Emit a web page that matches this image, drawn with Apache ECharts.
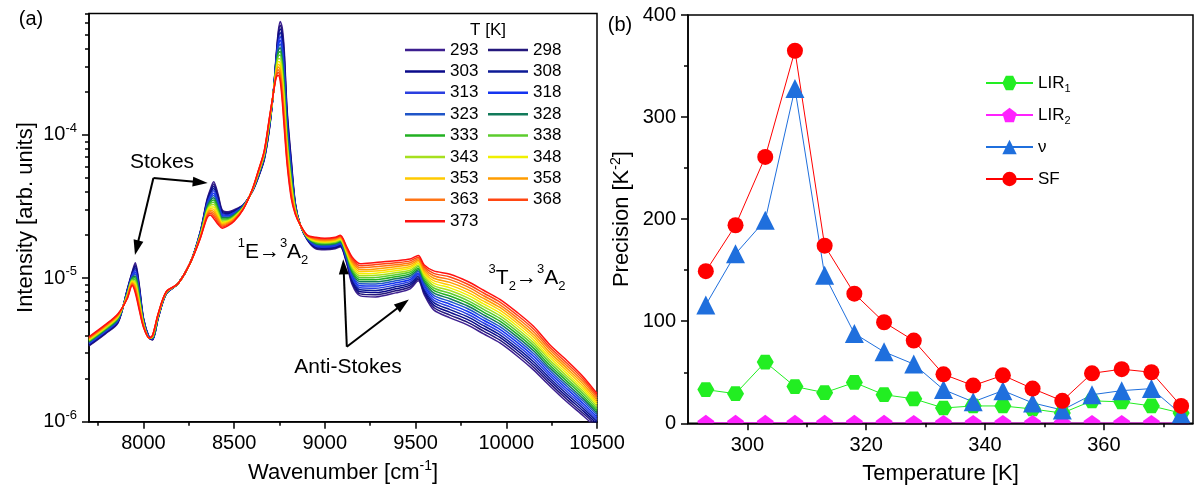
<!DOCTYPE html>
<html><head><meta charset="utf-8">
<script src="https://cdn.jsdelivr.net/npm/echarts@6/dist/echarts.min.js"></script>
<style>html,body{margin:0;padding:0;background:#fff;}#c{width:1195px;height:487px;}</style>
</head><body><div id="c"></div>
<script>
const FONT = '"Liberation Sans", Arial, Helvetica, sans-serif';

// ---------- Panel (a): spectra, x = wavenumber [cm-1], values = log10(intensity) ----------
const wavenumber = [7700,7790,7860,7910,7938,7955,7977,8000,8032,8050,8082,8126,8190,8258,8313,8350,8368,8387,8412,8434,8467,8500,8550,8600,8633,8666,8694,8715,8732,8743,8754,8765,8776,8792,8815,8837,8864,8903,8950,9000,9057,9085,9118,9151,9195,9280,9390,9470,9515,9548,9600,9690,9785,9875,9965,10060,10150,10240,10335,10425,10500];

const logI_293 = [-5.472,-5.388,-5.311,-5.081,-4.955,-4.893,-5.046,-5.276,-5.416,-5.430,-5.276,-5.109,-5.039,-4.893,-4.676,-4.453,-4.383,-4.327,-4.418,-4.523,-4.537,-4.523,-4.488,-4.397,-4.299,-4.174,-3.964,-3.720,-3.441,-3.281,-3.211,-3.253,-3.406,-3.825,-4.174,-4.474,-4.627,-4.732,-4.795,-4.802,-4.795,-4.781,-4.886,-5.046,-5.123,-5.130,-5.102,-5.074,-5.018,-5.116,-5.221,-5.276,-5.325,-5.388,-5.451,-5.542,-5.639,-5.751,-5.863,-5.960,-6.044];
const logI_298 = [-5.468,-5.384,-5.307,-5.085,-4.961,-4.906,-5.057,-5.280,-5.416,-5.428,-5.274,-5.108,-5.039,-4.893,-4.679,-4.461,-4.394,-4.343,-4.431,-4.531,-4.543,-4.528,-4.490,-4.396,-4.296,-4.170,-3.959,-3.720,-3.451,-3.300,-3.237,-3.285,-3.440,-3.849,-4.191,-4.479,-4.627,-4.730,-4.790,-4.797,-4.790,-4.776,-4.879,-5.034,-5.109,-5.115,-5.088,-5.061,-5.007,-5.103,-5.204,-5.257,-5.306,-5.369,-5.432,-5.523,-5.620,-5.733,-5.845,-5.943,-6.029];
const logI_303 = [-5.464,-5.380,-5.303,-5.089,-4.967,-4.919,-5.068,-5.284,-5.416,-5.426,-5.272,-5.107,-5.039,-4.893,-4.682,-4.469,-4.405,-4.359,-4.444,-4.539,-4.549,-4.533,-4.492,-4.395,-4.293,-4.166,-3.954,-3.720,-3.461,-3.319,-3.263,-3.317,-3.474,-3.873,-4.208,-4.484,-4.627,-4.728,-4.785,-4.792,-4.785,-4.771,-4.872,-5.022,-5.095,-5.100,-5.074,-5.048,-4.996,-5.090,-5.187,-5.238,-5.287,-5.350,-5.413,-5.504,-5.601,-5.715,-5.827,-5.926,-6.014];
const logI_308 = [-5.460,-5.376,-5.299,-5.093,-4.973,-4.932,-5.079,-5.288,-5.416,-5.424,-5.270,-5.106,-5.039,-4.893,-4.685,-4.477,-4.416,-4.375,-4.457,-4.547,-4.555,-4.538,-4.494,-4.394,-4.290,-4.162,-3.949,-3.720,-3.471,-3.338,-3.289,-3.349,-3.508,-3.897,-4.225,-4.489,-4.627,-4.726,-4.780,-4.787,-4.780,-4.766,-4.865,-5.010,-5.081,-5.085,-5.060,-5.035,-4.985,-5.077,-5.170,-5.219,-5.268,-5.331,-5.394,-5.485,-5.582,-5.697,-5.809,-5.909,-5.999];
const logI_313 = [-5.456,-5.372,-5.295,-5.097,-4.979,-4.945,-5.090,-5.292,-5.416,-5.422,-5.268,-5.105,-5.039,-4.893,-4.688,-4.485,-4.427,-4.391,-4.470,-4.555,-4.561,-4.543,-4.496,-4.393,-4.287,-4.158,-3.944,-3.720,-3.481,-3.357,-3.315,-3.381,-3.542,-3.921,-4.242,-4.494,-4.627,-4.724,-4.775,-4.782,-4.775,-4.761,-4.858,-4.998,-5.067,-5.070,-5.046,-5.022,-4.974,-5.064,-5.153,-5.200,-5.249,-5.312,-5.375,-5.466,-5.563,-5.679,-5.791,-5.892,-5.984];
const logI_318 = [-5.452,-5.368,-5.291,-5.101,-4.985,-4.958,-5.101,-5.296,-5.416,-5.420,-5.266,-5.104,-5.039,-4.893,-4.691,-4.493,-4.438,-4.407,-4.483,-4.563,-4.567,-4.548,-4.498,-4.392,-4.284,-4.154,-3.939,-3.720,-3.491,-3.376,-3.341,-3.413,-3.576,-3.945,-4.259,-4.499,-4.627,-4.722,-4.770,-4.777,-4.770,-4.756,-4.851,-4.986,-5.053,-5.055,-5.032,-5.009,-4.963,-5.051,-5.136,-5.181,-5.230,-5.293,-5.356,-5.447,-5.544,-5.661,-5.773,-5.875,-5.969];
const logI_323 = [-5.448,-5.364,-5.287,-5.105,-4.991,-4.971,-5.112,-5.300,-5.416,-5.418,-5.264,-5.103,-5.039,-4.893,-4.694,-4.501,-4.449,-4.423,-4.496,-4.571,-4.573,-4.553,-4.500,-4.391,-4.281,-4.150,-3.934,-3.720,-3.501,-3.395,-3.367,-3.445,-3.610,-3.969,-4.276,-4.504,-4.627,-4.720,-4.765,-4.772,-4.765,-4.751,-4.844,-4.974,-5.039,-5.040,-5.018,-4.996,-4.952,-5.038,-5.119,-5.162,-5.211,-5.274,-5.337,-5.428,-5.525,-5.643,-5.755,-5.858,-5.954];
const logI_328 = [-5.444,-5.360,-5.283,-5.109,-4.997,-4.984,-5.123,-5.304,-5.416,-5.416,-5.262,-5.102,-5.039,-4.893,-4.697,-4.509,-4.460,-4.439,-4.509,-4.579,-4.579,-4.558,-4.502,-4.390,-4.278,-4.146,-3.929,-3.720,-3.511,-3.414,-3.393,-3.477,-3.644,-3.993,-4.293,-4.509,-4.627,-4.718,-4.760,-4.767,-4.760,-4.746,-4.837,-4.962,-5.025,-5.025,-5.004,-4.983,-4.941,-5.025,-5.102,-5.143,-5.192,-5.255,-5.318,-5.409,-5.506,-5.625,-5.737,-5.841,-5.939];
const logI_333 = [-5.440,-5.356,-5.279,-5.113,-5.003,-4.997,-5.134,-5.308,-5.416,-5.414,-5.260,-5.101,-5.039,-4.893,-4.700,-4.517,-4.471,-4.455,-4.522,-4.587,-4.585,-4.563,-4.504,-4.389,-4.275,-4.142,-3.924,-3.720,-3.521,-3.433,-3.419,-3.509,-3.678,-4.017,-4.310,-4.514,-4.627,-4.716,-4.755,-4.762,-4.755,-4.741,-4.830,-4.950,-5.011,-5.010,-4.990,-4.970,-4.930,-5.012,-5.085,-5.124,-5.173,-5.236,-5.299,-5.390,-5.487,-5.607,-5.719,-5.824,-5.924];
const logI_338 = [-5.436,-5.352,-5.275,-5.117,-5.009,-5.010,-5.145,-5.312,-5.416,-5.412,-5.258,-5.100,-5.039,-4.893,-4.703,-4.525,-4.482,-4.471,-4.535,-4.595,-4.591,-4.568,-4.506,-4.388,-4.272,-4.138,-3.919,-3.720,-3.531,-3.452,-3.445,-3.541,-3.712,-4.041,-4.327,-4.519,-4.627,-4.714,-4.750,-4.757,-4.750,-4.736,-4.823,-4.938,-4.997,-4.995,-4.976,-4.957,-4.919,-4.999,-5.068,-5.105,-5.154,-5.217,-5.280,-5.371,-5.468,-5.589,-5.701,-5.807,-5.909];
const logI_343 = [-5.432,-5.348,-5.271,-5.121,-5.015,-5.023,-5.156,-5.316,-5.416,-5.410,-5.256,-5.099,-5.039,-4.893,-4.706,-4.533,-4.493,-4.487,-4.548,-4.603,-4.597,-4.573,-4.508,-4.387,-4.269,-4.134,-3.914,-3.720,-3.541,-3.471,-3.471,-3.573,-3.746,-4.065,-4.344,-4.524,-4.627,-4.712,-4.745,-4.752,-4.745,-4.731,-4.816,-4.926,-4.983,-4.980,-4.962,-4.944,-4.908,-4.986,-5.051,-5.086,-5.135,-5.198,-5.261,-5.352,-5.449,-5.571,-5.683,-5.790,-5.894];
const logI_348 = [-5.428,-5.344,-5.267,-5.125,-5.021,-5.036,-5.167,-5.320,-5.416,-5.408,-5.254,-5.098,-5.039,-4.893,-4.709,-4.541,-4.504,-4.503,-4.561,-4.611,-4.603,-4.578,-4.510,-4.386,-4.266,-4.130,-3.909,-3.720,-3.551,-3.490,-3.497,-3.605,-3.780,-4.089,-4.361,-4.529,-4.627,-4.710,-4.740,-4.747,-4.740,-4.726,-4.809,-4.914,-4.969,-4.965,-4.948,-4.931,-4.897,-4.973,-5.034,-5.067,-5.116,-5.179,-5.242,-5.333,-5.430,-5.553,-5.665,-5.773,-5.879];
const logI_353 = [-5.424,-5.340,-5.263,-5.129,-5.027,-5.049,-5.178,-5.324,-5.416,-5.406,-5.252,-5.097,-5.039,-4.893,-4.712,-4.549,-4.515,-4.519,-4.574,-4.619,-4.609,-4.583,-4.512,-4.385,-4.263,-4.126,-3.904,-3.720,-3.561,-3.509,-3.523,-3.637,-3.814,-4.113,-4.378,-4.534,-4.627,-4.708,-4.735,-4.742,-4.735,-4.721,-4.802,-4.902,-4.955,-4.950,-4.934,-4.918,-4.886,-4.960,-5.017,-5.048,-5.097,-5.160,-5.223,-5.314,-5.411,-5.535,-5.647,-5.756,-5.864];
const logI_358 = [-5.420,-5.336,-5.259,-5.133,-5.033,-5.062,-5.189,-5.328,-5.416,-5.404,-5.250,-5.096,-5.039,-4.893,-4.715,-4.557,-4.526,-4.535,-4.587,-4.627,-4.615,-4.588,-4.514,-4.384,-4.260,-4.122,-3.899,-3.720,-3.571,-3.528,-3.549,-3.669,-3.848,-4.137,-4.395,-4.539,-4.627,-4.706,-4.730,-4.737,-4.730,-4.716,-4.795,-4.890,-4.941,-4.935,-4.920,-4.905,-4.875,-4.947,-5.000,-5.029,-5.078,-5.141,-5.204,-5.295,-5.392,-5.517,-5.629,-5.739,-5.849];
const logI_363 = [-5.416,-5.332,-5.255,-5.137,-5.039,-5.075,-5.200,-5.332,-5.416,-5.402,-5.248,-5.095,-5.039,-4.893,-4.718,-4.565,-4.537,-4.551,-4.600,-4.635,-4.621,-4.593,-4.516,-4.383,-4.257,-4.118,-3.894,-3.720,-3.581,-3.547,-3.575,-3.701,-3.882,-4.161,-4.412,-4.544,-4.627,-4.704,-4.725,-4.732,-4.725,-4.711,-4.788,-4.878,-4.927,-4.920,-4.906,-4.892,-4.864,-4.934,-4.983,-5.010,-5.059,-5.122,-5.185,-5.276,-5.373,-5.499,-5.611,-5.722,-5.834];
const logI_368 = [-5.412,-5.328,-5.251,-5.141,-5.045,-5.088,-5.211,-5.336,-5.416,-5.400,-5.246,-5.094,-5.039,-4.893,-4.721,-4.573,-4.548,-4.567,-4.613,-4.643,-4.627,-4.598,-4.518,-4.382,-4.254,-4.114,-3.889,-3.720,-3.591,-3.566,-3.601,-3.733,-3.916,-4.185,-4.429,-4.549,-4.627,-4.702,-4.720,-4.727,-4.720,-4.706,-4.781,-4.866,-4.913,-4.905,-4.892,-4.879,-4.853,-4.921,-4.966,-4.991,-5.040,-5.103,-5.166,-5.257,-5.354,-5.481,-5.593,-5.705,-5.819];
const logI_373 = [-5.408,-5.324,-5.247,-5.145,-5.051,-5.101,-5.222,-5.340,-5.416,-5.398,-5.244,-5.093,-5.039,-4.893,-4.724,-4.581,-4.559,-4.583,-4.626,-4.651,-4.633,-4.603,-4.520,-4.381,-4.251,-4.110,-3.884,-3.720,-3.601,-3.585,-3.627,-3.765,-3.950,-4.209,-4.446,-4.554,-4.627,-4.700,-4.715,-4.722,-4.715,-4.701,-4.774,-4.854,-4.899,-4.890,-4.878,-4.866,-4.842,-4.908,-4.949,-4.972,-5.021,-5.084,-5.147,-5.238,-5.335,-5.463,-5.575,-5.688,-5.804];

const tempNames = ['293','298','303','308','313','318','323','328','333','338','343','348','353','358','363','368','373'];
const tempColors = ['#3c1f8f','#24187c','#0a0a8a','#0c1a96','#2a3fe0','#1434f0','#1f55c8','#127a5a','#22b022','#5ccc2e','#a6e01e','#f0f000','#ffca00','#ff9c00','#ff7415','#ff4612','#ff1010'];
const legendColA = ['293','303','313','323','333','343','353','363','373'];
const legendColB = ['298','308','318','328','338','348','358','368'];

const xMajorA = [8000,8500,9000,9500,10000,10500];
const xMinorA = [7750,8250,8750,9250,9750,10250];
const yMajorA = [1e-6,1e-5,1e-4];
const yMinorA = [2e-6,3e-6,4e-6,5e-6,6e-6,7e-6,8e-6,9e-6,2e-5,3e-5,4e-5,5e-5,6e-5,7e-5,8e-5,9e-5,2e-4,3e-4,4e-4,5e-4,6e-4,7e-4];

// ---------- Panel (b): precision vs temperature ----------
const tempK = [293,298,303,308,313,318,323,328,333,338,343,348,353,358,363,368,373];
const precLIR1 = [33,29,60,36,30,40,28,24,15,17,17,14,10,22,21,17,10];
const precLIR2 = [0.5,0.5,0.5,0.5,0.4,0.4,0.4,0.3,0.3,0.3,0.3,0.3,0.2,0.3,0.3,0.3,0.2];
const precNu = [116,166,199,328,145,88,70,58,33,21,32,20,13,28,32,34,9];
const precSF = [149,194,261,365,174,127,99,81,48,37,47,34,22,49,53,50,17];
const xMajorB = [300,320,340,360];
const xMinorB = [310,330,350,370];

const spectra = [logI_293,logI_298,logI_303,logI_308,logI_313,logI_318,logI_323,logI_328,logI_333,logI_338,logI_343,logI_348,logI_353,logI_358,logI_363,logI_368,logI_373];

const HEX = 'path://M0,50 L25,6.7 L75,6.7 L100,50 L75,93.3 L25,93.3 Z';
const PENT = 'path://M50,0 L100,36.3 L80.9,95.1 L19.1,95.1 L0,36.3 Z';

function rich(size) {
  const s = Math.round(size * 0.64);
  return {
    sup: {fontSize: s, lineHeight: s, verticalAlign: 'top', fontFamily: FONT, color: '#000', fill: '#000'},
    sub: {fontSize: s, lineHeight: s, verticalAlign: 'bottom', fontFamily: FONT, color: '#000', fill: '#000'}
  };
}
const axisLineStyle = {color: '#000', width: 1.5};
const plainNum = v => String(v);

const series = spectra.map((arr, i) => ({
  type: 'line', name: tempNames[i], xAxisIndex: 0, yAxisIndex: 0,
  data: wavenumber.map((w, j) => [w, Math.pow(10, arr[j])]),
  symbol: 'none', showSymbol: false, smooth: 0.3, clip: true, silent: true,
  lineStyle: {width: 1.5, color: tempColors[i]}, itemStyle: {color: tempColors[i]},
  emphasis: {disabled: true}, z: 2
}));

series.push({
  type: 'line', name: 'annot', xAxisIndex: 0, yAxisIndex: 0, data: [], z: 10, silent: true,
  markLine: {
    silent: true, symbol: ['none', 'triangle'], symbolSize: [10, 15], animation: false,
    lineStyle: {color: '#000', width: 2, type: 'solid'}, label: {show: false}, emphasis: {disabled: true},
    data: [
      [{coord: [8055, 5.0e-5]}, {coord: [7963, 1.63e-5]}],
      [{coord: [8055, 5.0e-5]}, {coord: [8313, 4.66e-5]}],
      [{coord: [9121, 3.33e-6]}, {coord: [9103, 1.20e-5]}],
      [{coord: [9121, 3.33e-6]}, {coord: [9430, 6.61e-6]}]
    ]
  }
});

const bSeries = [
  {name: 'LIR1', data: precLIR1, color: '#22ee22', symbol: HEX, size: 17},
  {name: 'LIR2', data: precLIR2, color: '#ff22ff', symbol: PENT, size: 17},
  {name: 'ν', data: precNu, color: '#1f6fdd', symbol: 'triangle', size: 19},
  {name: 'SF', data: precSF, color: '#ff0000', symbol: 'circle', size: 16}
];
bSeries.forEach(s => series.push({
  type: 'line', name: s.name, xAxisIndex: 2, yAxisIndex: 2,
  data: tempK.map((t, j) => [t, s.data[j]]),
  symbol: s.symbol, symbolSize: s.size, symbolKeepAspect: true, showSymbol: true,
  lineStyle: {width: 1, color: s.color}, itemStyle: {color: s.color},
  clip: false, silent: true, emphasis: {disabled: true}, z: 3
}));

const legendText = {fontSize: 17, fontFamily: FONT, color: '#000', lineHeight: 17};

const option = {
  animation: false,
  backgroundColor: '#fff',
  textStyle: {fontFamily: FONT, color: '#000'},
  grid: [
    {left: 89, top: 13.5, width: 508, height: 408.2, show: true, borderColor: '#000', borderWidth: 1.5, backgroundColor: 'rgba(0,0,0,0)', outerBoundsMode: 'none', containLabel: false},
    {left: 688, top: 15, width: 505, height: 408.3, show: true, borderColor: '#000', borderWidth: 1.5, backgroundColor: 'rgba(0,0,0,0)', outerBoundsMode: 'none', containLabel: false}
  ],
  xAxis: [
    {gridIndex: 0, type: 'value', position: 'bottom', min: 7700, max: 10500,
     axisLine: {show: true, onZero: false, lineStyle: axisLineStyle},
     axisTick: {show: true, length: 7, customValues: xMajorA, lineStyle: axisLineStyle},
     axisLabel: {show: true, customValues: xMajorA, formatter: plainNum, fontSize: 20, color: '#000', margin: 12, fontFamily: FONT},
     splitLine: {show: false},
     name: 'Wavenumber [cm{sup|-1}]', nameLocation: 'middle', nameGap: 37,
     nameTextStyle: {fontSize: 22, color: '#000', fontFamily: FONT, lineHeight: 28, rich: rich(22)}},
    {gridIndex: 0, type: 'value', position: 'bottom', min: 7700, max: 10500,
     axisLine: {show: false, onZero: false}, axisLabel: {show: false}, splitLine: {show: false},
     axisTick: {show: true, length: 4, customValues: xMinorA, lineStyle: axisLineStyle}},
    {gridIndex: 1, type: 'value', position: 'bottom', min: 290, max: 375, z: 60,
     axisLine: {show: true, onZero: false, lineStyle: axisLineStyle},
     axisTick: {show: true, length: 7, customValues: xMajorB, lineStyle: axisLineStyle},
     axisLabel: {show: true, customValues: xMajorB, formatter: plainNum, fontSize: 20, color: '#000', margin: 12, fontFamily: FONT},
     splitLine: {show: false},
     name: 'Temperature [K]', nameLocation: 'middle', nameGap: 37,
     nameTextStyle: {fontSize: 22, color: '#000', fontFamily: FONT, lineHeight: 28}},
    {gridIndex: 1, type: 'value', position: 'bottom', min: 290, max: 375, z: 60,
     axisLine: {show: false, onZero: false}, axisLabel: {show: false}, splitLine: {show: false},
     axisTick: {show: true, length: 4, customValues: xMinorB, lineStyle: axisLineStyle}}
  ],
  yAxis: [
    {gridIndex: 0, type: 'log', logBase: 10, position: 'left', min: 1e-6, max: 7e-4,
     axisLine: {show: true, onZero: false, lineStyle: axisLineStyle},
     axisTick: {show: true, length: 7, customValues: yMajorA, lineStyle: axisLineStyle},
     axisLabel: {show: true, customValues: yMajorA, fontSize: 20, color: '#000', margin: 12, lineHeight: 26, fontFamily: FONT,
       formatter: v => '10{sup|' + Math.round(Math.log10(v)) + '}',
       rich: {sup: {fontSize: 13, lineHeight: 13, verticalAlign: 'top', color: '#000', fontFamily: FONT}}},
     splitLine: {show: false}, minorTick: {show: false},
     name: 'Intensity [arb. units]', nameLocation: 'middle', nameGap: 49,
     nameTextStyle: {fontSize: 22, color: '#000', fontFamily: FONT, lineHeight: 26}},
    {gridIndex: 0, type: 'log', logBase: 10, position: 'left', min: 1e-6, max: 7e-4,
     axisLine: {show: false, onZero: false}, axisLabel: {show: false}, splitLine: {show: false},
     axisTick: {show: true, length: 4, customValues: yMinorA, lineStyle: axisLineStyle}},
    {gridIndex: 1, type: 'value', position: 'left', min: 0, max: 400, interval: 100,
     axisLine: {show: true, onZero: false, lineStyle: axisLineStyle},
     axisTick: {show: true, length: 7, lineStyle: axisLineStyle},
     minorTick: {show: true, splitNumber: 2, length: 4, lineStyle: axisLineStyle},
     axisLabel: {show: true, fontSize: 20, color: '#000', margin: 12, fontFamily: FONT},
     splitLine: {show: false}, minorSplitLine: {show: false},
     name: 'Precision [K{sup|-2}]', nameLocation: 'middle', nameGap: 53,
     nameTextStyle: {fontSize: 22, color: '#000', fontFamily: FONT, lineHeight: 26, rich: rich(22)}}
  ],
  legend: [
    {data: legendColA, orient: 'vertical', left: 405, top: 41.5, itemWidth: 40, itemHeight: 2.5, itemGap: 4.4, icon: 'rect',
     selectedMode: false, textStyle: legendText, padding: 0},
    {data: legendColB, orient: 'vertical', left: 488, top: 41.5, itemWidth: 40, itemHeight: 2.5, itemGap: 4.4, icon: 'rect',
     selectedMode: false, textStyle: legendText, padding: 0},
    {data: ['LIR1', 'LIR2', 'ν', 'SF'], orient: 'vertical', left: 985, top: 72, itemWidth: 47, itemHeight: 18, itemGap: 10,
     selectedMode: false, padding: 0,
     formatter: n => ({LIR1: 'LIR{sub|1}', LIR2: 'LIR{sub|2}'}[n] || n),
     textStyle: {fontSize: 17, fontFamily: FONT, color: '#000', lineHeight: 22, rich: rich(17)}}
  ],
  graphic: [
    {type: 'rect', shape: {x: 689, y: 424.6, width: 503, height: 9}, style: {fill: '#fff'}, z: 50, silent: true},
    {type: 'text', x: 31, y: 19, style: {text: '(a)', fontSize: 20, fontFamily: FONT, fill: '#000', align: 'center', verticalAlign: 'middle'}},
    {type: 'text', x: 620, y: 25, style: {text: '(b)', fontSize: 20, fontFamily: FONT, fill: '#000', align: 'center', verticalAlign: 'middle'}},
    {type: 'text', x: 488, y: 30, style: {text: 'T [K]', fontSize: 17, fontFamily: FONT, fill: '#000', align: 'center', verticalAlign: 'middle'}},
    {type: 'text', x: 162, y: 162, style: {text: 'Stokes', fontSize: 21, fontFamily: FONT, fill: '#000', align: 'center', verticalAlign: 'middle'}},
    {type: 'text', x: 348, y: 367, style: {text: 'Anti-Stokes', fontSize: 21, fontFamily: FONT, fill: '#000', align: 'center', verticalAlign: 'middle'}},
    {type: 'text', x: 273, y: 252, style: {text: '{sup|1}E→{sup|3}A{sub|2}', fontSize: 21, lineHeight: 30, fontFamily: FONT, fill: '#000', align: 'center', verticalAlign: 'middle', rich: rich(21)}},
    {type: 'text', x: 527, y: 278, style: {text: '{sup|3}T{sub|2}→{sup|3}A{sub|2}', fontSize: 21, lineHeight: 30, fontFamily: FONT, fill: '#000', align: 'center', verticalAlign: 'middle', rich: rich(21)}}
  ],
  series: series
};

const chart = echarts.init(document.getElementById('c'), null, {renderer: 'canvas'});
chart.setOption(option);
</script></body></html>
